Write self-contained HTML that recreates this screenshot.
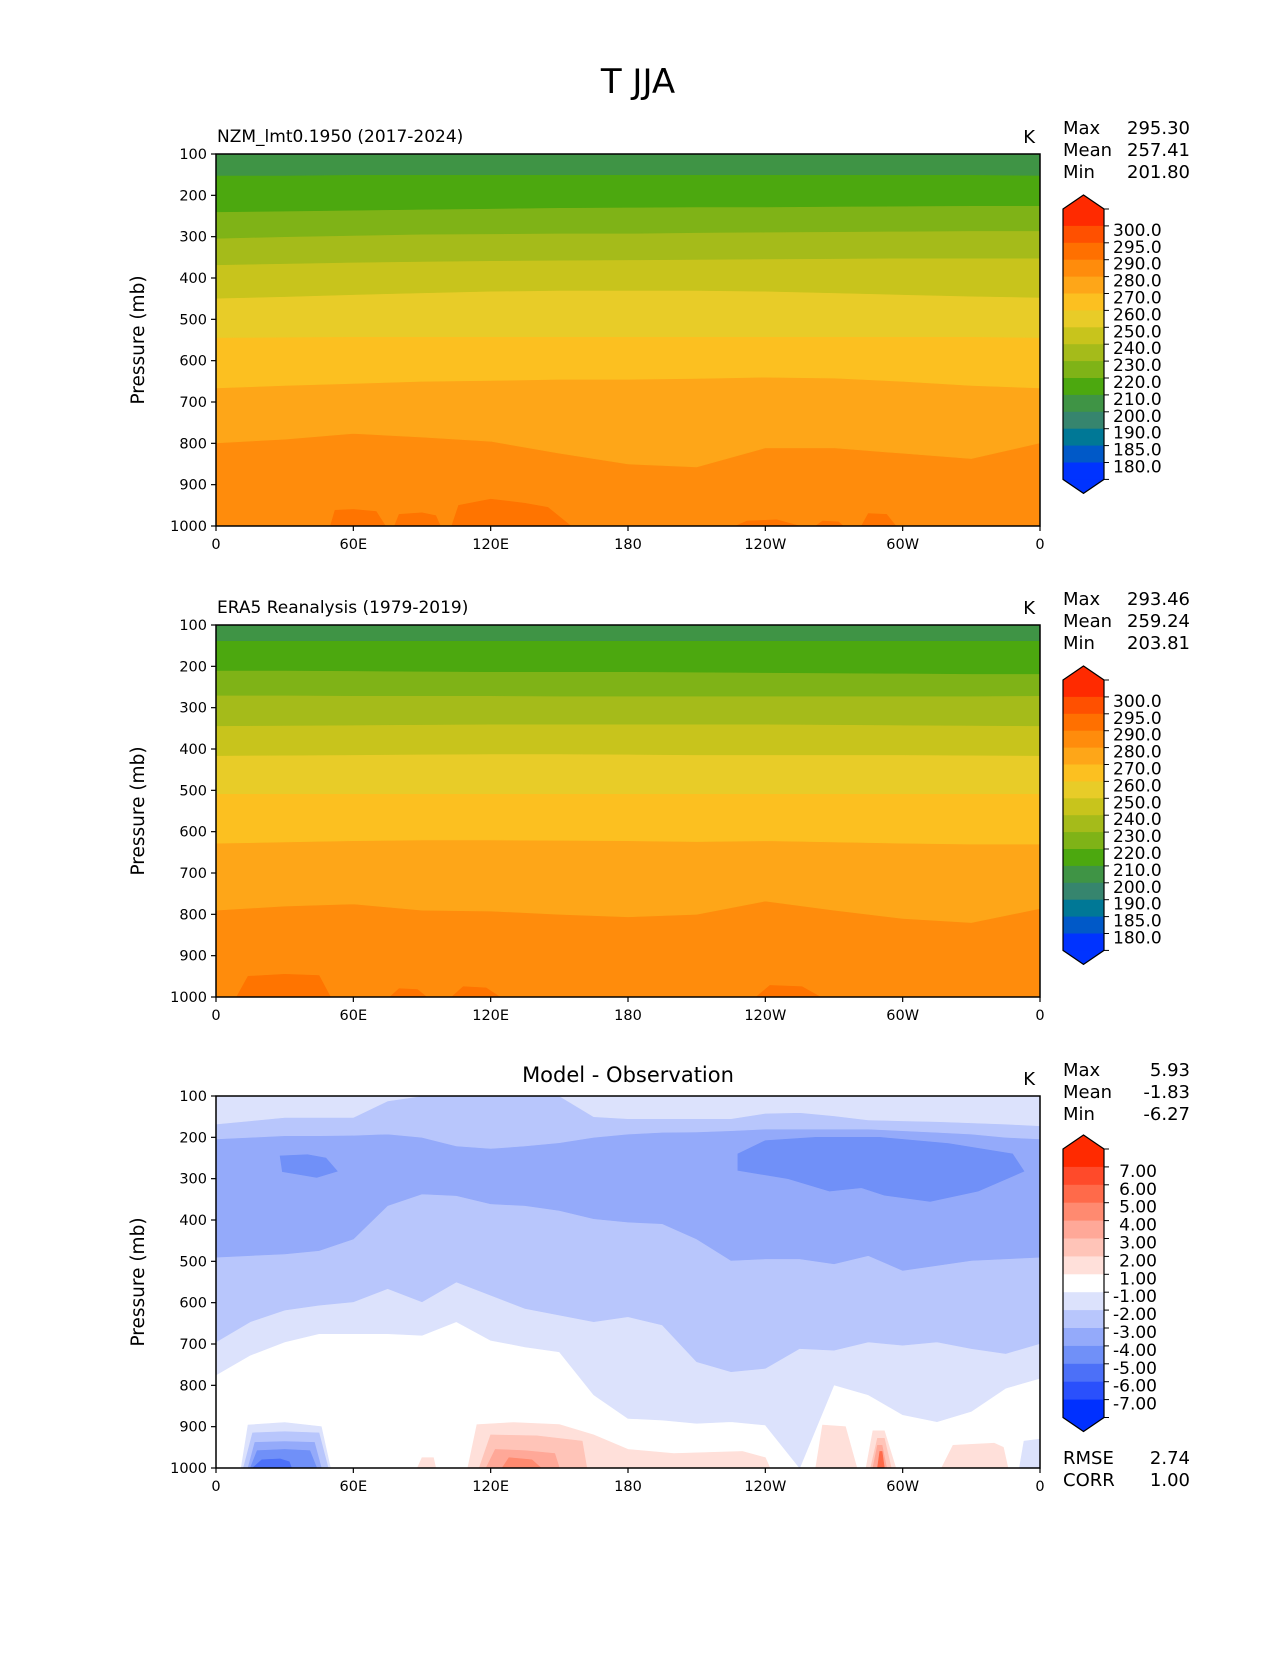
<!DOCTYPE html>
<html><head><meta charset="utf-8"><style>
html,body{margin:0;padding:0;background:#fff;}
svg text{font-family:"DejaVu Sans","Liberation Sans",sans-serif;fill:#000;}
</style></head><body>
<svg id="fig" width="1275" height="1650" viewBox="0 0 1275 1650" xmlns="http://www.w3.org/2000/svg">
<text x="638" y="93" font-size="34" text-anchor="middle">T JJA</text>
</svg>
<script>
const lons30=[0,30,60,90,120,150,180,210,240,270,300,330,360];
const lons15=[0,15,30,45,60,75,90,105,120,135,150,165,180,195,210,225,240,255,270,285,300,315,330,345,360];
const yTicks=[100,200,300,400,500,600,700,800,900,1000];
const xTicks=[0,60,120,180,240,300,360];
const xTickLabels=['0','60E','120E','180','120W','60W','0'];
const absLevels=['300.0','295.0','290.0','280.0','270.0','260.0','250.0','240.0','230.0','220.0','210.0','200.0','190.0','185.0','180.0'];
const absColors=['#ff2a00','#ff5000','#ff7000','#ff8c0c','#fea618','#fcc020','#e8cc28','#c8c41c','#a5bb1a','#7fb317','#4ca80f','#3f9445','#36856e','#007896','#0059c8','#0033ff'];
const difLevels=['7.00','6.00','5.00','4.00','3.00','2.00','1.00','-1.00','-2.00','-3.00','-4.00','-5.00','-6.00','-7.00'];
const difColors=['#ff2a00','#ff4a2a','#ff6a4a','#ff8a70','#ffa898','#ffc4b8','#ffe0da','#ffffff','#dce2fc','#b8c6fc','#94aafa','#7090f8','#4c70f8','#2a50fc','#0030ff'];
// panel 1 contour boundaries (pressure at lons30)
const m1=[152,152,150,150,150,150,150,150,150,150,150,150,152];
const m2=[240,238,236,234,232,230,229,228,228,227,226,225,225];
const m3=[304,300,297,294,293,292,292,290,289,288,287,286,286];
const m4=[368,365,362,360,358,357,356,355,354,353,352,352,352];
const m5=[449,445,440,436,432,430,430,430,432,436,440,444,447];
const m6=[544,543,542,542,542,542,542,542,542,542,542,542,544];
const m7=[666,660,655,650,648,645,645,643,640,642,650,660,666];
const m8=[799,790,776,785,795,824,850,857,811,811,824,837,799];
// panel 2
const o1=[138,138,138,138,138,138,138,138,138,138,138,138,138];
const o2=[210,210,211,212,213,213,213,214,215,216,217,218,218];
const o3=[270,270,271,271,271,272,272,272,272,272,272,272,271];
const o4=[344,343,342,341,340,340,340,340,340,341,342,343,344];
const o5=[416,415,414,413,412,412,413,414,414,414,414,415,416];
const o6=[508,508,508,508,508,508,508,508,508,508,508,508,508];
const o7=[628,625,622,620,620,621,622,624,622,625,628,630,630];
const o8=[790,780,775,790,792,800,806,800,768,790,810,820,786];
// panel 3 (pressure at lons15)
const dA=[168,160,152,152,152,112,100,100,100,100,100,150,155,155,155,155,142,140,148,158,160,162,165,168,172];
const dB=[204,200,196,196,195,192,200,221,227,221,213,200,192,188,187,184,180,180,180,180,184,188,192,200,204];
const dC=[490,486,482,474,446,365,337,341,361,365,377,397,405,409,446,498,494,494,506,486,522,510,498,494,490];
const dD=[695,646,618,606,598,566,598,550,582,614,630,646,634,654,743,767,759,711,715,695,703,695,711,723,699];
const dE=[775,727,695,675,675,675,679,646,691,707,719,823,880,884,892,888,896,1000,799,823,871,888,863,807,783];
// patches: lons, tops (pressure), color
const patch1Lons=[[50,52,60,70,74],[78,80,90,96,98],[103,106,120,135,145,155],[227,232,245,255],[262,265,272,274],[282,285,293,297]];
const patch1Tops=[[1000,962,960,965,1000],[1000,972,968,975,1000],[1000,950,935,945,955,1000],[1000,988,985,1000],[1000,988,990,1000],[1000,970,972,1000]];
const patch2Lons=[[9,14,30,45,50],[76,80,88,92],[103,108,118,124],[236,242,256,264]];
const patch2Tops=[[1000,950,945,948,1000],[1000,980,982,1000],[1000,975,978,1000],[1000,972,975,1000]];
const dBlobLons=[[28,40,48,53,44,29],[228,240,262,290,320,348,353,333,312,292,282,268,250,228]];
const dBlobPs=[[245,242,250,282,297,283],[240,208,200,200,215,240,282,330,355,340,322,330,300,280]];
const dPatchLons=[[11,14,30,46,50],[12,16,30,45,49],[14,17,30,43,46],[15,18,30,41,44],[16,20,28,32,33],
 [110,114,130,150,165,180,200,230,240,242],[115,120,140,160,162],[118,122,135,148,150],[125,128,138,142],
 [262,265,275,280],[284,287,292,297],[286,289,292,295],[287,289,291,293],[289,290,291,292],[88,90,95,96],[317,322,340,344,346],[351,353,360,360]];
const dPatchTops=[[1000,896,890,900,1000],[1000,915,912,915,1000],[1000,938,936,938,1000],[1000,958,955,958,1000],[1000,980,978,985,1000],
 [1000,895,890,895,920,955,965,960,975,1000],[1000,920,922,935,1000],[1000,955,958,965,1000],[1000,975,980,1000],
 [1000,896,900,1000],[1000,910,910,1000],[1000,928,928,1000],[1000,945,945,1000],[1000,960,960,1000],[1000,975,975,1000],[1000,945,940,950,1000],[1000,935,930,1000]];
const dPatchCols=['#dce2fc','#b8c6fc','#94aafa','#7090f8','#4c70f8','#ffe0da','#ffc4b8','#ffa898','#ff8a70','#ffe0da','#ffe0da','#ffc4b8','#ffa898','#ff6a4a','#ffe0da','#ffe0da','#dce2fc'];
const stats1=['295.30','257.41','201.80'];
const stats2=['293.46','259.24','203.81'];
const stats3=['5.93','-1.83','-6.27'];

const NS='http://www.w3.org/2000/svg';
const svg=document.getElementById('fig');
const X0=216,X1=1040,PH=372;
function mk(tag,attrs,parent){const e=document.createElementNS(NS,tag);for(const k in attrs)e.setAttribute(k,attrs[k]);(parent||svg).appendChild(e);return e;}
function xs(lon){return X0+lon/360*(X1-X0);}
function ysF(top){return p=>top+(p-100)/900*PH;}
function curvePoly(g,lons,ps,ys,color,name){
  let pts=[[xs(0),ys(100)],[xs(360),ys(100)]];
  for(let i=lons.length-1;i>=0;i--)pts.push([xs(lons[i]),ys(ps[i])]);
  const e=mk('polygon',{points:pts.map(q=>q.join(',')).join(' '),fill:color,stroke:color,'stroke-width':0.6},g);
  
  
}
function closedPoly(g,lons,ps,ys,color,name){
  const e=mk('polygon',{points:lons.map((l,i)=>xs(l)+','+ys(ps[i])).join(' '),fill:color,stroke:color,'stroke-width':0.6},g);
  
  
}
function txt(x,y,s,size,anchor,name,parent){const e=mk('text',{x:x,y:y,'font-size':size,'text-anchor':anchor||'start'},parent);e.textContent=s;
  return e;}
function axes(g,top){
  const ys=ysF(top);
  const r=mk('rect',{x:X0,y:top,width:X1-X0,height:PH,fill:'none',stroke:'#000','stroke-width':1.5},g);
  
  yTicks.forEach(p=>{mk('line',{x1:X0-5,x2:X0,y1:ys(p),y2:ys(p),stroke:'#000','stroke-width':1.2},g);
    txt(X0-9,ys(p)+5,String(p),14.5,'end','y-tick-label',g);});
  xTicks.forEach((l,i)=>{mk('line',{x1:xs(l),x2:xs(l),y1:top+PH,y2:top+PH+5,stroke:'#000','stroke-width':1.2},g);
    txt(xs(l),top+PH+23,xTickLabels[i],14.5,'middle','x-tick-label',g);});
  const yl=txt(0,0,'Pressure (mb)',18.5,'middle','y-axis-title',g);
  yl.setAttribute('transform','translate(144,'+(top+PH/2)+') rotate(-90)');
  txt(X1-5,top-11,'K',18,'end','units-label',g);
}
function stats(g,top,vals,labels){
  labels.forEach((l,i)=>{txt(1063,top-20+i*22,l,18,'start','stat-label',g);txt(1190,top-20+i*22,vals[i],18,'end','stat-value',g);});
}
function colorbar(g,tipY,seg,colors,labels,labelRight){
  const xL=1063,xR=1104,n=colors.length,base=tipY+14,bot=base+n*seg;
  colors.forEach((c,i)=>{const r=mk('rect',{x:xL,y:base+i*seg,width:xR-xL,height:seg+0.5,fill:c},g);
    });
  mk('polygon',{points:`${xL},${base} ${(xL+xR)/2},${tipY} ${xR},${base}`,fill:colors[0]},g);
  mk('polygon',{points:`${xL},${bot} ${(xL+xR)/2},${bot+14} ${xR},${bot}`,fill:colors[n-1]},g);
  const o=mk('polygon',{points:`${xL},${base} ${(xL+xR)/2},${tipY} ${xR},${base} ${xR},${bot} ${(xL+xR)/2},${bot+14} ${xL},${bot}`,fill:'none',stroke:'#000','stroke-width':1.2},g);
  
  labels.forEach((l,i)=>{const y=base+(i+1)*seg;mk('line',{x1:xR,x2:xR+5,y1:y,y2:y,stroke:'#000'},g);
    if(labelRight)txt(1157,y+10,l,17,'end','colorbar-tick-label',g);else txt(1113,y+10,l,17,'start','colorbar-tick-label',g);});
  mk('line',{x1:xR,x2:xR+5,y1:base,y2:base,stroke:'#000'},g);
  mk('line',{x1:xR,x2:xR+5,y1:bot,y2:bot,stroke:'#000'},g);
}
function absPanel(top,bounds,patchL,patchT,title,statVals,name){
  const g=mk('g',{});
  const ys=ysF(top);
  mk('rect',{x:X0,y:top,width:X1-X0,height:PH,fill:'#ff8c0c'},g);
  patchL.forEach((l,i)=>closedPoly(g,l,patchT[i],ys,'#ff7400','warm-patch'));
  const cols=['#3f9445','#4ca80f','#7fb317','#a5bb1a','#c8c41c','#e8cc28','#fcc020','#fea618'];
  for(let i=bounds.length-1;i>=0;i--)curvePoly(g,lons30,bounds[i],ys,cols[i],'contour-band');
  axes(g,top);
  txt(X0+1,top-12,title,17,'start','panel-title',g);
  stats(g,top,statVals,['Max','Mean','Min']);
  colorbar(g,top+41,16.9,absColors,absLevels,false);
}
absPanel(154,[m1,m2,m3,m4,m5,m6,m7,m8],patch1Lons,patch1Tops,'NZM_lmt0.1950 (2017-2024)',stats1,'model-panel');
absPanel(625,[o1,o2,o3,o4,o5,o6,o7,o8],patch2Lons,patch2Tops,'ERA5 Reanalysis (1979-2019)',stats2,'obs-panel');
(function(){
  const top=1096,ys=ysF(top);
  const g=mk('g',{});
  mk('rect',{x:X0,y:top,width:X1-X0,height:PH,fill:'#ffffff'},g);
  const b=[dA,dB,dC,dD,dE],c=['#dce2fc','#b8c6fc','#94aafa','#b8c6fc','#dce2fc'];
  for(let i=b.length-1;i>=0;i--)curvePoly(g,lons15,b[i],ys,c[i],'contour-band');
  dBlobLons.forEach((l,i)=>closedPoly(g,l,dBlobPs[i],ys,'#7090f8','cold-blob'));
  dPatchLons.forEach((l,i)=>closedPoly(g,l,dPatchTops[i],ys,dPatchCols[i],'surface-patch'));
  axes(g,top);
  txt((X0+X1)/2,top-14,'Model - Observation',21,'middle','panel-title',g);
  stats(g,top,stats3,['Max','Mean','Min']);
  txt(1063,1464,'RMSE',18,'start','stat-label',g);txt(1190,1464,'2.74',18,'end','stat-value',g);
  txt(1063,1486,'CORR',18,'start','stat-label',g);txt(1190,1486,'1.00',18,'end','stat-value',g);
  colorbar(g,1135,17.9,difColors,difLevels,true);
})();
</script>
</body></html>
